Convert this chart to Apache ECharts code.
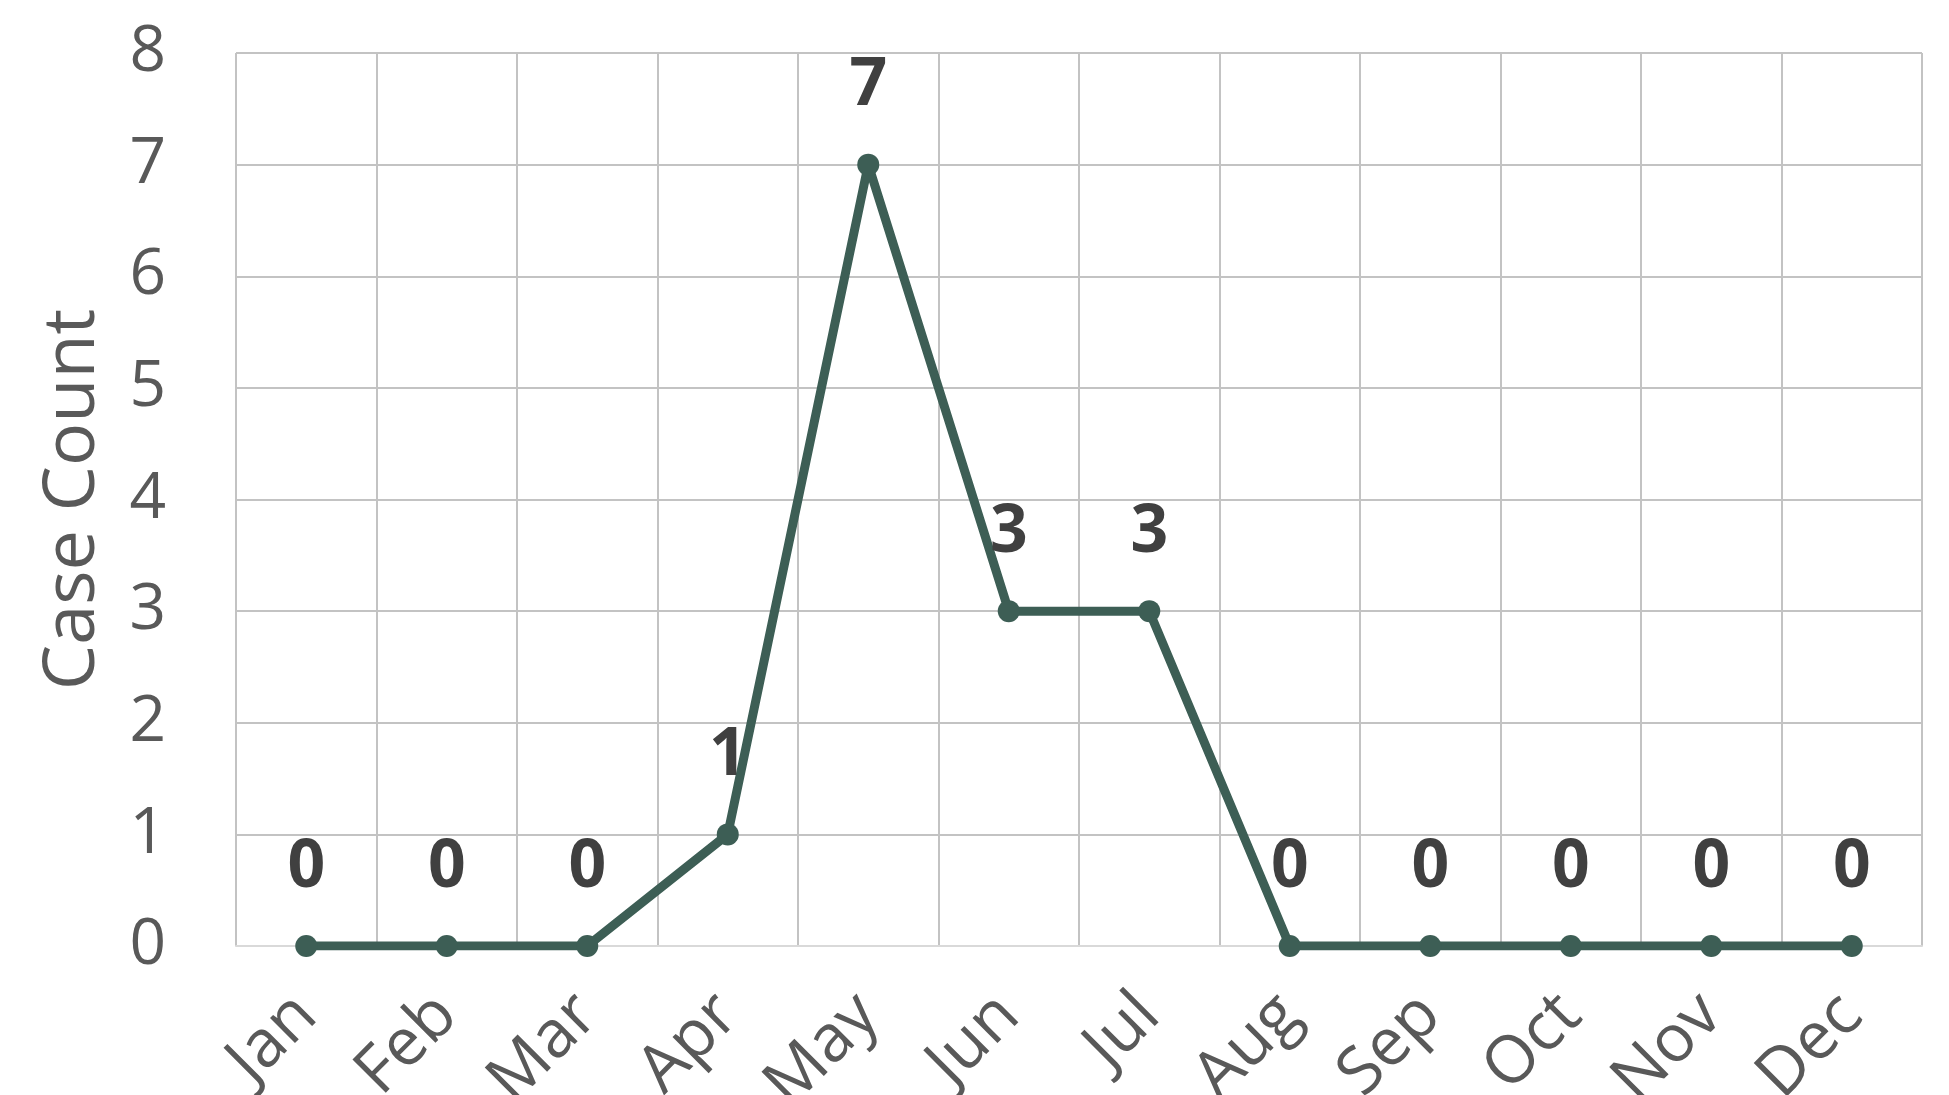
<!DOCTYPE html>
<html>
<head>
<meta charset="utf-8">
<title>Case Count by Month</title>
<script src="https://cdn.jsdelivr.net/npm/echarts@6/dist/echarts.min.js"></script>
<style>
  html, body { margin: 0; padding: 0; background: #ffffff; }
  #chart { width: 1949px; height: 1095px; }
</style>
</head>
<body>
<div id="chart"></div>
<script>
// Monthly case counts
const months = ['Jan', 'Feb', 'Mar', 'Apr', 'May', 'Jun', 'Jul', 'Aug', 'Sep', 'Oct', 'Nov', 'Dec'];
const caseCounts = [0, 0, 0, 1, 7, 3, 3, 0, 0, 0, 0, 0];
const yTicks = [0, 1, 2, 3, 4, 5, 6, 7, 8];

const lineColor = '#3d5e55';
const gridColor = '#c3c3c3';
const tickText = '#595959';

const chart = echarts.init(document.getElementById('chart'), null, { renderer: 'canvas' });

chart.setOption({
  backgroundColor: '#ffffff',
  animation: false,
  grid: { left: 236, right: 27, top: 53, bottom: 149, containLabel: false, outerBoundsMode: 'none' },
  xAxis: {
    type: 'category',
    data: months,
    boundaryGap: true,
    axisLine: { show: true, lineStyle: { color: '#d9d9d9', width: 2 } },
    axisTick: { show: false },
    splitLine: { show: true, lineStyle: { color: gridColor, width: 2 } },
    axisLabel: {
      rotate: 45,
      margin: 59,
      color: tickText,
      fontFamily: 'Open Sans',
      fontSize: 66,
      interval: 0
    }
  },
  yAxis: {
    type: 'value',
    min: yTicks[0],
    max: yTicks[yTicks.length - 1],
    interval: 1,
    name: 'Case Count',
    nameLocation: 'middle',
    nameRotate: 90,
    nameGap: 127,
    nameTextStyle: { color: tickText, fontFamily: 'Open Sans', fontSize: 72 },
    axisLine: { show: false },
    axisTick: { show: false },
    splitLine: { show: true, lineStyle: { color: gridColor, width: 2 } },
    axisLabel: {
      color: tickText,
      fontFamily: 'Open Sans',
      fontSize: 64,
      margin: 70,
      formatter: function (v) { return yTicks.indexOf(v) >= 0 ? String(v) : ''; }
    }
  },
  series: [{
    type: 'line',
    data: caseCounts,
    symbol: 'circle',
    symbolSize: 22,
    lineStyle: { color: lineColor, width: 9 },
    itemStyle: { color: lineColor },
    label: {
      show: true,
      position: 'top',
      distance: 34,
      color: '#404040',
      fontFamily: 'Open Sans',
      fontWeight: 'bold',
      fontSize: 66
    }
  }]
});
</script>
</body>
</html>
